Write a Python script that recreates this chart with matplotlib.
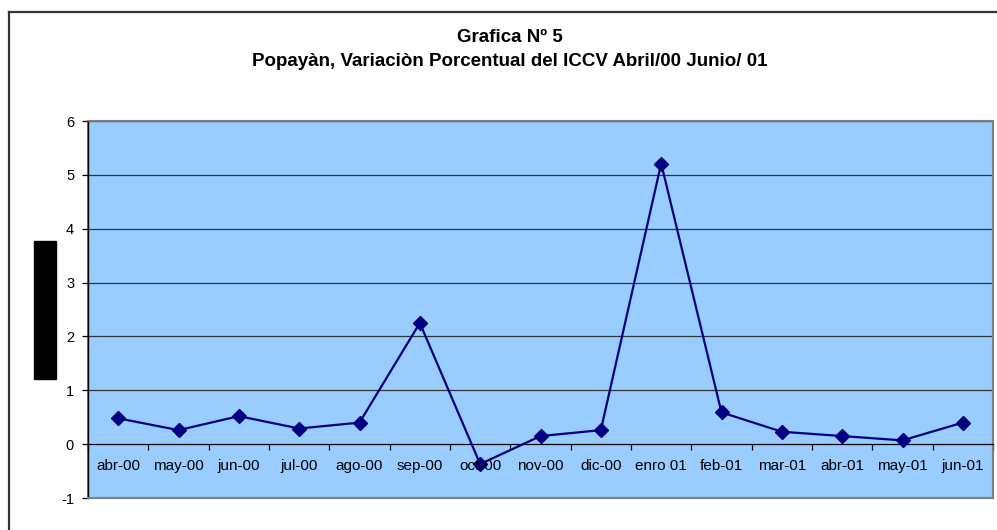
import numpy as np
import matplotlib.pyplot as plt
from matplotlib.patches import Rectangle
from matplotlib.lines import Line2D

months = ["abr-00", "may-00", "jun-00", "jul-00", "ago-00", "sep-00", "oct-00", "nov-00",
          "dic-00", "enro 01", "feb-01", "mar-01", "abr-01", "may-01", "jun-01"]
variacion = [0.48, 0.26, 0.52, 0.29, 0.40, 2.25, -0.37, 0.15,
             0.26, 5.21, 0.59, 0.23, 0.15, 0.07, 0.40]
yticks = [-1, 0, 1, 2, 3, 4, 5, 6]

plt.rcParams["font.family"] = ["Liberation Sans", "DejaVu Sans"]

W, H = 997, 530
fig = plt.figure(figsize=(W / 100, H / 100), dpi=100)
ax = fig.add_axes([88 / W, 1 - 498 / H, (993 - 88) / W, (498 - 121) / H])

x = np.arange(len(months))
ax.set_facecolor("#99ccff")
ax.set_xlim(-0.5, len(months) - 0.5)
ax.set_ylim(-1, 6)

# grid lines
for v in yticks[2:]:
    ax.axhline(v, color="#333333", lw=0.9, zorder=1)

ax.plot(x, variacion, color="#000080", lw=1.6, marker="D", markersize=7,
        markerfacecolor="#000080", markeredgecolor="#000080", zorder=3)

# category axis at zero
ax.spines["bottom"].set_position(("data", 0))
ax.spines["bottom"].set_color("black")
ax.spines["bottom"].set_linewidth(0.9)
ax.set_xticks(np.arange(len(months) + 1) - 0.5)
ax.set_xticklabels([])
ax.tick_params(axis="x", direction="out", length=4, width=0.9, color="black")
for i, m in enumerate(months):
    ax.text(i, -0.41, m, ha="center", va="center", fontsize=11, zorder=4)

ax.set_yticks(yticks)
ax.set_yticklabels([str(v) for v in yticks], fontsize=10.5)
ax.tick_params(axis="y", direction="out", length=4, width=0.9, pad=6, color="black")

for side in ["top", "right"]:
    ax.spines[side].set_color("#808080")
    ax.spines[side].set_linewidth(1.2)
ax.spines["left"].set_color("black")
ax.spines["left"].set_linewidth(1.0)
ax.add_patch(Rectangle((0, 0), 1, 1, transform=ax.transAxes, fill=False,
                       edgecolor="#808080", lw=1.5, zorder=0, clip_on=False))
ax.axhline(-1, color="#808080", lw=1.5, zorder=5, clip_on=False)

fig.text(510 / W, 1 - 38 / H, "Grafica Nº 5", ha="center", va="center",
         fontsize=13.5, fontweight="bold")
fig.text(510 / W, 1 - 62 / H, "Popayàn, Variaciòn Porcentual del ICCV Abril/00 Junio/ 01",
         ha="center", va="center", fontsize=13.5, fontweight="bold")

# outer chart frame
fig.add_artist(Line2D([8.5 / W, 8.5 / W], [0, 1 - 11.5 / H], color="#333333", lw=1.6))
fig.add_artist(Line2D([8.5 / W, 1], [1 - 11.5 / H, 1 - 11.5 / H], color="#333333", lw=1.6))

# black box over axis title
fig.add_artist(Rectangle((34 / W, 1 - 379 / H), 22 / W, 138 / H,
                         transform=fig.transFigure, color="black"))

fig.savefig("out.png", dpi=100)
